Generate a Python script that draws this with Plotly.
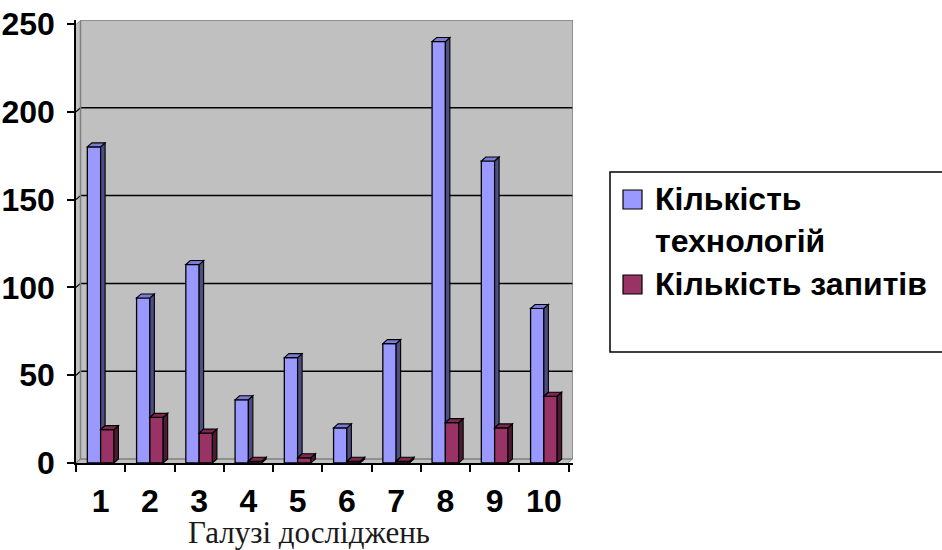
import plotly.graph_objects as go

# ---- data -------------------------------------------------------------
categories = ["1", "2", "3", "4", "5", "6", "7", "8", "9", "10"]
technologies = [180, 94, 113, 36, 60, 20, 68, 240, 172, 88]
requests = [19, 26, 17, 1, 3, 1, 1, 23, 20, 38]
series_names = ["Кількість технологій", "Кількість запитів"]
y_ticks = [0, 50, 100, 150, 200, 250]
x_title = "Галузі досліджень"

# ---- styling / geometry -------------------------------------------------
W, H = 942, 550
LEFT, RIGHT, TOP, BOTTOM = 76, 573, 20, 463      # plot area in px
DEPTH_X_PX, DEPTH_Y_PX = 4.5, 4.0                # pseudo-3D depth offset

FRONT = ["#9999FF", "#993366"]
TOPC = ["#7B7BD6", "#7A2850"]
SIDE = ["#4D4D80", "#4D1A33"]
WALL = "#C0C0C0"
WALL_EDGE = "#808080"
BAR_W = 0.27

n = len(categories)
cat_px = (RIGHT - LEFT - DEPTH_X_PX) / n
dx = DEPTH_X_PX / cat_px
ymax = max(y_ticks)
unit_px = (BOTTOM - TOP - DEPTH_Y_PX) / ymax
dy = DEPTH_Y_PX / unit_px
xs = list(range(n))


def px(xp):
    return xp / W


def py(yp):
    return 1 - yp / H


def poly(pts):
    return "M " + " L ".join(f"{x:.5f},{y:.5f}" for x, y in pts) + " Z"


fig = go.Figure()

# front faces of the columns
fig.add_trace(go.Bar(x=xs, y=technologies, width=BAR_W, offset=-BAR_W,
                     name=series_names[0], marker_color=FRONT[0],
                     marker_line=dict(color="black", width=1.3)))
fig.add_trace(go.Bar(x=xs, y=requests, width=BAR_W, offset=0,
                     name=series_names[1], marker_color=FRONT[1],
                     marker_line=dict(color="black", width=1.3)))

shapes = []

# back wall gridlines with their short slanted part on the side wall
for v in y_ticks[1:-1]:
    shapes.append(dict(type="line", xref="x", yref="y", layer="below",
                       x0=-0.5 + dx, x1=n - 0.5 + dx, y0=v + dy, y1=v + dy,
                       line=dict(color="black", width=1.5)))
    shapes.append(dict(type="line", xref="x", yref="y", layer="below",
                       x0=-0.5, x1=-0.5 + dx, y0=v, y1=v + dy,
                       line=dict(color="black", width=1.2)))

# wall outline
shapes.append(dict(type="path", xref="x", yref="y", layer="below",
                   path=f"M {-0.5 + dx},{dy} L {-0.5 + dx},{ymax + dy} "
                        f"L {n - 0.5 + dx},{ymax + dy} L {n - 0.5 + dx},{dy} "
                        f"L {-0.5 + dx},{dy}",
                   line=dict(color=WALL_EDGE, width=1.5)))
for x0, y0 in [(-0.5, 0), (-0.5, ymax), (n - 0.5, 0)]:
    shapes.append(dict(type="line", xref="x", yref="y", layer="below",
                       x0=x0, x1=x0 + dx, y0=y0, y1=y0 + dy,
                       line=dict(color=WALL_EDGE, width=1.2)))
# trim corners outside the box
shapes.append(dict(type="path", xref="x", yref="y", layer="below",
                   path=poly([(-0.5, ymax), (-0.5, ymax + dy), (-0.5 + dx, ymax + dy)]),
                   fillcolor="white", line=dict(width=0)))
shapes.append(dict(type="path", xref="x", yref="y", layer="below",
                   path=poly([(n - 0.5, 0), (n - 0.5 + dx, 0), (n - 0.5 + dx, dy)]),
                   fillcolor="white", line=dict(width=0)))

# depth faces (top and right side) of every column
edge = dict(color="black", width=1.1)
for i, b, r in zip(xs, technologies, requests):
    # blue column: side face is visible only above the neighbouring red column
    shapes.append(dict(type="path", xref="x", yref="y", layer="above",
                       path=poly([(i, r), (i + dx, r + dy), (i + dx, b + dy), (i, b)]),
                       fillcolor=SIDE[0], line=edge))
    shapes.append(dict(type="path", xref="x", yref="y", layer="above",
                       path=poly([(i - BAR_W, b), (i, b), (i + dx, b + dy), (i - BAR_W + dx, b + dy)]),
                       fillcolor=TOPC[0], line=edge))
    # red column
    shapes.append(dict(type="path", xref="x", yref="y", layer="above",
                       path=poly([(i + BAR_W, 0), (i + BAR_W + dx, dy), (i + BAR_W + dx, r + dy), (i + BAR_W, r)]),
                       fillcolor=SIDE[1], line=edge))
    shapes.append(dict(type="path", xref="x", yref="y", layer="above",
                       path=poly([(i, r), (i + BAR_W, r), (i + BAR_W + dx, r + dy), (i + dx, r + dy)]),
                       fillcolor=TOPC[1], line=edge))

# legend box drawn by hand
LEG_L, LEG_T, LEG_B = 610, 172, 352
shapes.append(dict(type="rect", xref="paper", yref="paper",
                   x0=px(LEG_L), x1=px(W + 5), y0=py(LEG_B), y1=py(LEG_T),
                   line=dict(color="black", width=1.5), fillcolor="white"))
legend_rows = [
    (series_names[0].split(" ", 1), 199, FRONT[0]),
    ([series_names[1]], 284, FRONT[1]),
]
annotations = []
for lines, yc, col in legend_rows:
    shapes.append(dict(type="rect", xref="paper", yref="paper",
                       x0=px(623), x1=px(642), y0=py(yc + 10), y1=py(yc - 9),
                       line=dict(color="black", width=1.2), fillcolor=col))
    for k, txt in enumerate(lines):
        annotations.append(dict(xref="paper", yref="paper", x=px(653), y=py(yc + 42 * k),
                                xanchor="left", yanchor="middle", showarrow=False, text=txt,
                                font=dict(family="Arial", size=32, color="black", weight="bold")))

annotations.append(dict(xref="paper", yref="paper", x=px(309), y=py(532),
                        xanchor="center", yanchor="middle", showarrow=False, text=x_title,
                        font=dict(family="Times New Roman", size=31, color="#1a1a1a")))

tick_font = dict(family="Arial", size=32, color="black", weight="bold")

fig.update_layout(
    width=W, height=H,
    margin=dict(l=0, r=0, t=0, b=0),
    paper_bgcolor="white",
    plot_bgcolor=WALL,
    barmode="overlay",
    showlegend=False,
    shapes=shapes,
    annotations=annotations,
    xaxis=dict(
        domain=[px(LEFT), px(RIGHT)],
        range=[-0.5, n - 0.5 + dx],
        automargin=False,
        tickmode="array", tickvals=xs, ticktext=categories,
        ticks="", tickfont=tick_font,
        minor=dict(tickmode="array", tickvals=[i - 0.5 for i in range(n + 1)],
                   ticks="outside", ticklen=7, tickwidth=1.5, tickcolor="black"),
        showline=True, linecolor="black", linewidth=1.5,
        showgrid=False, zeroline=False, ticklabelstandoff=9,
    ),
    yaxis=dict(
        domain=[py(BOTTOM), py(TOP)],
        range=[0, ymax + dy],
        automargin=False,
        tickmode="array", tickvals=y_ticks,
        ticks="outside", ticklen=7, tickwidth=1.5, tickcolor="black",
        tickfont=tick_font,
        showline=True, linecolor="black", linewidth=1.5,
        showgrid=False, zeroline=False, ticklabelstandoff=6,
    ),
)

fig.write_html("out.html")
